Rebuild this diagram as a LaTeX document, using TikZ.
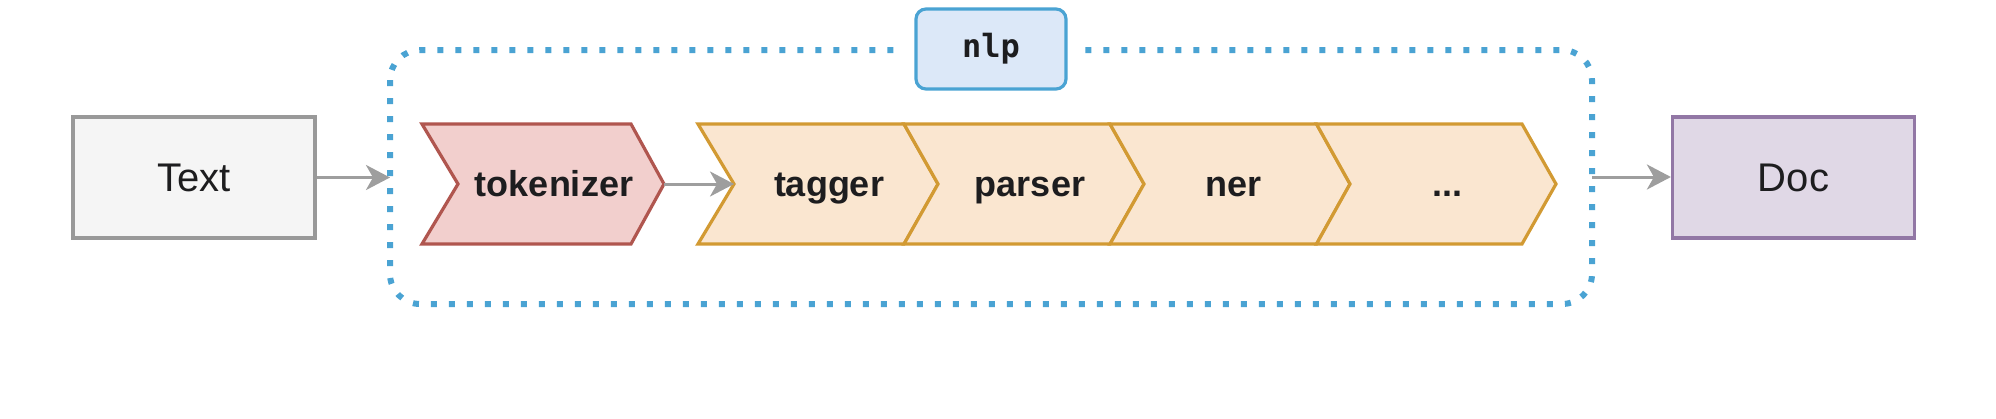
\documentclass[tikz,border=0pt]{standalone}
\usepackage{fontspec}
\setmainfont{Liberation Sans}
\newfontfamily\monobold{DejaVu Sans Mono}
\usetikzlibrary{arrows.meta}
\definecolor{grayfill}{HTML}{F5F5F5}
\definecolor{grayline}{HTML}{999999}
\definecolor{arrowgray}{HTML}{9E9E9E}
\definecolor{redfill}{HTML}{F2CFCD}
\definecolor{redline}{HTML}{B0564F}
\definecolor{orfill}{HTML}{FAE6D0}
\definecolor{orline}{HTML}{D29A33}
\definecolor{purfill}{HTML}{E0D8E6}
\definecolor{purline}{HTML}{9277A5}
\definecolor{bluefill}{HTML}{DCE8F8}
\definecolor{blueline}{HTML}{4AA3D3}
\definecolor{ink}{HTML}{1D1D1F}
\tikzset{
  plainbox/.style={rectangle, line width=1.6pt, minimum width=121pt, minimum height=60.5pt, inner sep=0pt,
    font=\fontsize{20pt}{24pt}\selectfont, text=ink},
  chev/.style={line width=1.6pt, line join=miter},
  chevlabel/.style={anchor=base, inner sep=0pt, font=\bfseries\fontsize{18pt}{22pt}\selectfont, text=ink},
  flow/.style={line width=1.5pt, draw=arrowgray, -{Stealth[length=12pt, width=12.5pt, inset=3.5pt]}},
  dotted frame/.style={draw=blueline, line width=3pt, dash pattern=on 3pt off 6pt, rounded corners=15pt},
}
\begin{document}
\begin{tikzpicture}[x=0.5pt, y=-0.5pt]
\useasboundingbox (0,0) rectangle (1996,418);

% dotted container
\draw[dotted frame] (390,50) rectangle (1592,304);
\fill[white] (902,25) rectangle (1077,75);
\node (nlp) [rectangle, rounded corners=5pt, draw=blueline, fill=bluefill, line width=1.6pt,
  minimum width=75pt, minimum height=40pt, inner sep=0pt] at (991,49) {};
\node (nlplabel) [anchor=base, inner sep=0pt, text=ink, font=\monobold\bfseries\fontsize{16pt}{19pt}\selectfont] at (991,57) {nlp};

% input / output
\node (txt) [plainbox, draw=grayline, fill=grayfill] at (194,177.5) {Text};
\node (doc) [plainbox, draw=purline, fill=purfill] at (1793.5,177.5) {Doc};

% chevrons
\draw[chev, draw=redline, fill=redfill] (422,124) -- (631,124) -- (664,184) -- (631,244) -- (422,244) -- (458,184) -- cycle;
\draw[chev, draw=orline, fill=orfill] (698,124) -- (904,124) -- (938,184) -- (904,244) -- (698,244) -- (734,184) -- cycle;
\draw[chev, draw=orline, fill=orfill] (904,124) -- (1110,124) -- (1144,184) -- (1110,244) -- (904,244) -- (938,184) -- cycle;
\draw[chev, draw=orline, fill=orfill] (1110,124) -- (1316.5,124) -- (1350,184) -- (1316.5,244) -- (1110,244) -- (1144,184) -- cycle;
\draw[chev, draw=orline, fill=orfill] (1316.5,124) -- (1522,124) -- (1556,184) -- (1522,244) -- (1316.5,244) -- (1350,184) -- cycle;

\coordinate (toktip) at (664,184);
\coordinate (tagnotch) at (734,184);
\coordinate (frameW) at (390,177.5);
\coordinate (frameE) at (1592,177);

\node (tok) [chevlabel] at (554,196) {tokenizer};
\node (tag) [chevlabel] at (829,196) {tagger};
\node (par) [chevlabel] at (1030,196) {parser};
\node (ner) [chevlabel] at (1233,196) {ner};
\node (more) [chevlabel] at (1447,196) {...};

% connectors
\draw[flow] (txt.east) -- (frameW);
\draw[flow] (toktip) -- (tagnotch);
\draw[flow] (frameE) -- (doc.west |- frameE);
\end{tikzpicture}
\end{document}
